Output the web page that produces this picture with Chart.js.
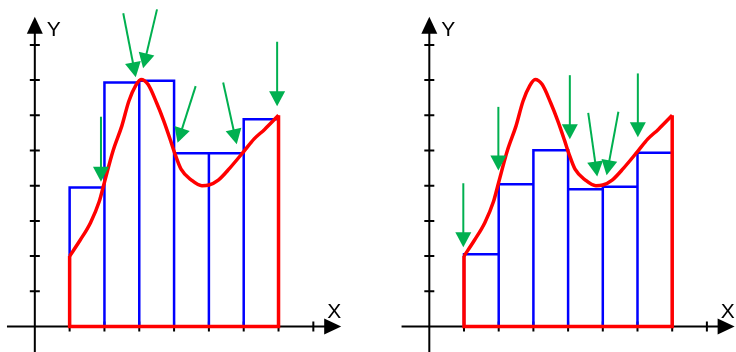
<!DOCTYPE html>
<html>
<head>
<meta charset="utf-8">
<title>Obersumme und Untersumme</title>
<script src="https://cdn.jsdelivr.net/npm/chart.js@4.4.1/dist/chart.umd.min.js"></script>
<style>
  html, body { margin: 0; padding: 0; background: #fff; }
  .panels { display: flex; width: 736px; height: 352px; }
  canvas { display: block; }
</style>
</head>
<body>
<div class="panels">
  <canvas id="upperSum" width="368" height="352"></canvas>
  <canvas id="lowerSum" width="368" height="352"></canvas>
</div>
<script>
// partition of [1, 7] into six strips
const xEdges = [1, 2, 3, 4, 5, 6, 7];
const upperHeights = [3.95, 6.93, 6.98, 4.92, 4.92, 5.89];
const lowerHeights = [2.05, 4.04, 5.01, 3.9, 3.97, 4.94];

// the function, sampled along the interval
const curveX = [1, 1.3, 1.6, 1.85, 2, 2.25, 2.5, 2.7, 2.9, 3.05, 3.25, 3.5, 3.7, 3.9, 4.02, 4.2, 4.5, 4.8, 5, 5.27, 5.6, 6, 6.3, 6.6, 7];
const curveY = [2, 2.45, 2.95, 3.55, 4.1, 5, 5.7, 6.4, 6.85, 7.02, 6.88, 6.35, 5.85, 5.28, 4.92, 4.47, 4.16, 4, 4.02, 4.16, 4.5, 4.97, 5.33, 5.6, 6];

const tickValues = [1, 2, 3, 4, 5, 6, 7, 8];
const axisLabels = ['X', 'Y'];

// green arrows at the chosen points: [tailX, tailY, tipX, tipY]
const upperArrows = [
  [1.9, 5.96, 1.9, 4.11],
  [2.54, 8.9, 2.9, 7.08],
  [3.51, 9.01, 3.11, 7.34],
  [4.62, 6.83, 4.1, 5.22],
  [5.41, 6.93, 5.8, 5.18],
  [6.96, 8.09, 6.96, 6.26]
];
const lowerArrows = [
  [0.98, 4.07, 0.98, 2.25],
  [1.99, 6.24, 1.99, 4.43],
  [4.05, 7.14, 4.05, 5.32],
  [4.58, 6.07, 4.84, 4.26],
  [5.45, 6.1, 5.11, 4.3],
  [6.01, 7.19, 6.01, 5.38]
];

const AXIS_START = -0.8;
const AXIS_END = 8.8;
const RED = '#ff0000';
const BLUE = '#0000ff';
const GREEN = '#00b050';

// outline of all strips as one path
function stripPath(heights) {
  const pts = [{ x: xEdges[0], y: 0 }];
  heights.forEach((h, i) => {
    pts.push({ x: xEdges[i], y: h }, { x: xEdges[i + 1], y: h }, { x: xEdges[i + 1], y: 0 });
  });
  pts.push({ x: xEdges[0], y: 0 });
  return pts;
}

function triangle(ctx, tipX, tipY, dx, dy, len, half) {
  // dx, dy: unit direction the arrow points in
  const bx = tipX - dx * len, by = tipY - dy * len;
  ctx.beginPath();
  ctx.moveTo(tipX, tipY);
  ctx.lineTo(bx - dy * half, by + dx * half);
  ctx.lineTo(bx + dy * half, by - dx * half);
  ctx.closePath();
  ctx.fill();
}

// axes with arrow heads, ticks and X / Y labels
const arrowAxes = {
  id: 'arrowAxes',
  beforeDatasetsDraw(chart) {
    const { ctx, scales: { x, y } } = chart;
    const x0 = x.getPixelForValue(0);
    const y0 = y.getPixelForValue(0);
    const xTip = x.getPixelForValue(AXIS_END);
    const yTip = y.getPixelForValue(AXIS_END);
    ctx.save();
    ctx.strokeStyle = '#000';
    ctx.fillStyle = '#000';
    ctx.lineWidth = 2;

    ctx.beginPath();
    ctx.moveTo(x.getPixelForValue(AXIS_START), y0);
    ctx.lineTo(xTip - 12, y0);
    ctx.moveTo(x0, y.getPixelForValue(AXIS_START));
    ctx.lineTo(x0, yTip + 12);
    tickValues.forEach(v => {
      const px = x.getPixelForValue(v);
      ctx.moveTo(px, y0 - 5);
      ctx.lineTo(px, y0 + 5);
      const py = y.getPixelForValue(v);
      ctx.moveTo(x0 - 5, py);
      ctx.lineTo(x0 + 5, py);
    });
    ctx.stroke();

    triangle(ctx, xTip, y0, 1, 0, 17, 8);
    triangle(ctx, x0, yTip, 0, -1, 17, 8);

    ctx.font = '21px "Liberation Sans", Arial, sans-serif';
    ctx.textBaseline = 'alphabetic';
    ctx.textAlign = 'center';
    ctx.fillText(axisLabels[0], xTip - 7, y0 - 9);
    ctx.textAlign = 'left';
    ctx.fillText(axisLabels[1], x0 + 12, yTip + 19);
    ctx.restore();
  }
};

const arrowMarks = {
  id: 'arrowMarks',
  afterDatasetsDraw(chart, args, opts) {
    const { ctx, scales: { x, y } } = chart;
    ctx.save();
    ctx.strokeStyle = GREEN;
    ctx.fillStyle = GREEN;
    ctx.lineWidth = 2;
    (opts.arrows || []).forEach(([tx, ty, hx, hy]) => {
      const x1 = x.getPixelForValue(tx), y1 = y.getPixelForValue(ty);
      const x2 = x.getPixelForValue(hx), y2 = y.getPixelForValue(hy);
      const len = Math.hypot(x2 - x1, y2 - y1);
      const dx = (x2 - x1) / len, dy = (y2 - y1) / len;
      ctx.beginPath();
      ctx.moveTo(x1, y1);
      ctx.lineTo(x2 - dx * 12, y2 - dy * 12);
      ctx.stroke();
      triangle(ctx, x2, y2, dx, dy, 15, 8);
    });
    ctx.restore();
  }
};

function makeChart(id, heights, arrows, xMin, xMax) {
  const curve = curveX.map((v, i) => ({ x: v, y: curveY[i] }));
  const last = curveX.length - 1;
  const region = [
    { x: curveX[0], y: curveY[0] },
    { x: curveX[0], y: 0 },
    { x: curveX[last], y: 0 },
    { x: curveX[last], y: curveY[last] }
  ];
  return new Chart(document.getElementById(id), {
    type: 'scatter',
    data: {
      datasets: [
        { data: curve, showLine: true, borderColor: RED, borderWidth: 3.5, pointRadius: 0, cubicInterpolationMode: 'monotone' },
        { data: region, showLine: true, borderColor: RED, borderWidth: 3.5, pointRadius: 0, tension: 0 },
        { data: stripPath(heights), showLine: true, borderColor: BLUE, borderWidth: 2.5, pointRadius: 0, tension: 0 }
      ]
    },
    options: {
      responsive: false,
      animation: false,
      events: [],
      layout: { padding: 0 },
      scales: {
        x: { type: 'linear', min: xMin, max: xMax, display: false },
        y: { type: 'linear', min: -0.724, max: 9.276, display: false }
      },
      plugins: {
        legend: { display: false },
        tooltip: { enabled: false },
        arrowMarks: { arrows: arrows }
      }
    },
    plugins: [arrowAxes, arrowMarks]
  });
}

makeChart('upperSum', upperHeights, upperArrows, -1, 9.57);
makeChart('lowerSum', lowerHeights, lowerArrows, -1.767, 8.839);
</script>
</body>
</html>
